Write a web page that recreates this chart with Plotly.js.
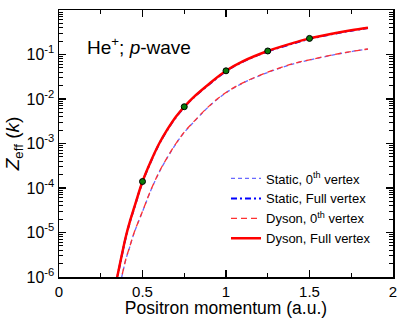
<!DOCTYPE html>
<html>
<head>
<meta charset="utf-8">
<script src="https://cdn.plot.ly/plotly-3.0.1.min.js"></script>
<style>html,body{margin:0;padding:0;background:#fff;}#chart{width:399px;height:318px;}</style>
</head>
<body>
<div id="chart"></div>
<script>
// Momentum grid (a.u.)
const kFull = [0.34,0.375,0.4,0.425,0.45,0.5,0.55,0.6,0.65,0.7,0.75,0.8,0.9,1.0,1.1,1.25,1.4,1.5,1.65,1.75,1.85];
const kZero = [0.365,0.375,0.4,0.425,0.45,0.5,0.55,0.6,0.65,0.7,0.75,0.8,0.9,1.0,1.1,1.25,1.4,1.5,1.65,1.75,1.85];

// Z_eff values
const dysonFull   = [7e-7,3.0e-6,8.0e-6,1.8e-5,3.6e-5,1.4e-4,4.0e-4,1.0e-3,2.1e-3,4.0e-3,6.7e-3,1.05e-2,2.2e-2,4.3e-2,7.0e-2,0.12,0.18,0.23,0.30,0.35,0.40];
const staticFull  = [6.8e-7,2.9e-6,7.8e-6,1.75e-5,3.5e-5,1.37e-4,3.9e-4,0.98e-3,2.05e-3,3.9e-3,6.55e-3,1.03e-2,2.15e-2,4.2e-2,6.85e-2,0.117,0.176,0.225,0.294,0.343,0.392];
const dysonZero   = [7e-7,1.0e-6,2.5e-6,5.0e-6,1.0e-5,3.0e-5,9.0e-5,2.3e-4,5.0e-4,1.0e-3,1.8e-3,2.9e-3,7.0e-3,1.4e-2,2.3e-2,4.0e-2,6.2e-2,7.6e-2,0.10,0.117,0.133];
const staticZero  = [6.9e-7,0.98e-6,2.45e-6,4.9e-6,0.98e-5,2.95e-5,8.85e-5,2.26e-4,4.9e-4,0.98e-3,1.77e-3,2.85e-3,6.9e-3,1.38e-2,2.27e-2,3.95e-2,6.1e-2,7.5e-2,0.099,0.116,0.132];

// Highlighted points
const kPts = [0.5,0.75,1.0,1.25,1.5];
const zPts = [1.4e-4,6.7e-3,4.3e-2,0.12,0.23];

// Tick labels
const yTickVals = [1e-6,1e-5,1e-4,1e-3,1e-2,1e-1,1];
const yTickText = ['10<sup>-6</sup>','10<sup>-5</sup>','10<sup>-4</sup>','10<sup>-3</sup>','10<sup>-2</sup>','10<sup>-1</sup>','10<sup>0</sup>'];
const xTickVals = [0,0.5,1,1.5,2];
const xTickText = ['0','0.5','1','1.5','2'];

const seriesNames = ['Static, 0<sup>th</sup> vertex','Static, Full vertex','Dyson, 0<sup>th</sup> vertex','Dyson, Full vertex'];

const traces = [
  {x:kZero, y:staticZero, name:seriesNames[0], mode:'lines', line:{color:'#6a6aff', width:1.3, dash:'4px,3px', shape:'spline'}},
  {x:kFull, y:staticFull, name:seriesNames[1], mode:'lines', line:{color:'#0000ff', width:2, dash:'6px,3px,2px,3px', shape:'spline'}},
  {x:kZero, y:dysonZero, name:seriesNames[2], mode:'lines', line:{color:'#ff3030', width:1.3, dash:'6px,4px', shape:'spline'}},
  {x:kFull, y:dysonFull, name:seriesNames[3], mode:'lines', line:{color:'#ff0000', width:2.5, shape:'spline'}},
  {x:kPts, y:zPts, mode:'markers', showlegend:false, marker:{color:'#0a7a0a', size:6, line:{color:'#000', width:1}}}
];

const font = {family:'Liberation Sans, Arial, sans-serif', color:'#000'};

const layout = {
  width:399, height:318,
  margin:{l:59, r:6, t:10, b:41, pad:0},
  paper_bgcolor:'#fff', plot_bgcolor:'#fff',
  font:Object.assign({size:15}, font),
  showlegend:true,
  legend:{x:0.50, y:0.425, xanchor:'left', yanchor:'top', bgcolor:'rgba(0,0,0,0)', font:Object.assign({size:13}, font), tracegroupgap:0, itemwidth:30},
  xaxis:{
    range:[0,2], tickvals:xTickVals, ticktext:xTickText,
    ticks:'inside', ticklen:7, tickwidth:1.2, tickcolor:'#000',
    showline:true, linecolor:'#000', linewidth:1.5, mirror:'ticks',
    showgrid:false, zeroline:false,
    minor:{ticks:'inside', ticklen:4, tickwidth:1, tickcolor:'#000', dtick:0.25, showgrid:false},
    tickfont:Object.assign({size:15}, font),
    title:{text:'Positron momentum (a.u.)', font:Object.assign({size:17.5}, font), standoff:1}
  },
  yaxis:{
    type:'log', range:[-6,0], tickvals:yTickVals, ticktext:yTickText,
    ticks:'inside', ticklen:7, tickwidth:1.2, tickcolor:'#000',
    showline:true, linecolor:'#000', linewidth:1.5, mirror:'ticks',
    showgrid:false, zeroline:false,
    minor:{ticks:'inside', ticklen:4, tickwidth:1, tickcolor:'#000', dtick:'D1', showgrid:false},
    tickfont:Object.assign({size:16}, font),
    title:{text:'<i>Z</i><sub>eff</sub> (<i>k</i>)', font:Object.assign({size:19}, font), standoff:2}
  },
  annotations:[
    {text:'He<sup>+</sup>; <i>p</i>-wave', xref:'paper', yref:'paper', x:0.078, y:0.865, xanchor:'left', yanchor:'middle', showarrow:false, font:Object.assign({size:19}, font)}
  ]
};

Plotly.newPlot('chart', traces, layout, {displayModeBar:false, staticPlot:true});
</script>
</body>
</html>
